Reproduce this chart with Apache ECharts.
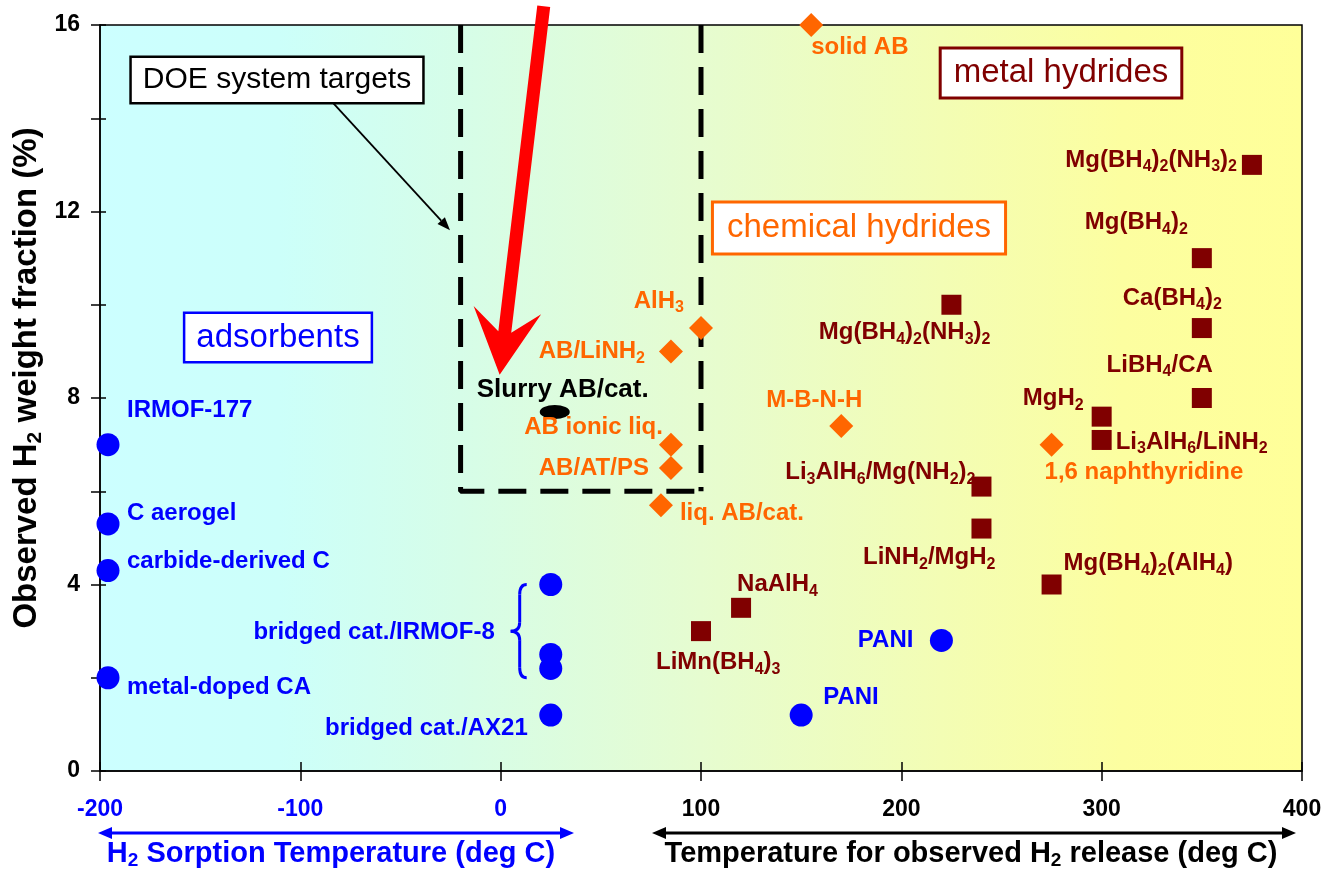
<!DOCTYPE html>
<html><head><meta charset="utf-8">
<script src="https://cdn.jsdelivr.net/npm/echarts@6/dist/echarts.min.js"></script>
<style>html,body{margin:0;padding:0;background:#fff}#c{width:1325px;height:869px}</style>
</head><body><div id="c"></div>
<script>
// ---------------- data ----------------
const xTicks = [-200, -100, 0, 100, 200, 300, 400];
const yTicks = [0, 4, 8, 12, 16];

const adsorbentLabels = ['IRMOF-177', 'C aerogel', 'carbide-derived C', 'metal-doped CA', '', 'bridged cat./IRMOF-8', '', 'bridged cat./AX21', 'PANI', 'PANI'];
const adsorbentTemp   = [-196, -196, -196, -196, 25, 25, 25, 25, 150, 220];
const adsorbentWt     = [7.0, 5.3, 4.3, 2.0, 4.0, 2.5, 2.2, 1.2, 1.2, 2.8];

const chemLabels = ['solid AB', 'AlH{s|3}', 'AB/LiNH{s|2}', 'AB ionic liq.', 'AB/AT/PS', 'liq. AB/cat.', 'M-B-N-H', '1,6 naphthyridine'];
const chemTemp   = [155, 100, 85, 85, 85, 80, 170, 275];
const chemWt     = [16.0, 9.5, 9.0, 7.0, 6.5, 5.7, 7.4, 7.0];

const metalLabels = ['Mg(BH{s|4}){s|2}(NH{s|3}){s|2}', 'Mg(BH{s|4}){s|2}', 'Ca(BH{s|4}){s|2}', 'LiBH{s|4}/CA', 'MgH{s|2}',
  'Li{s|3}AlH{s|6}/LiNH{s|2}', 'Mg(BH{s|4}){s|2}(NH{s|3}){s|2}', 'Li{s|3}AlH{s|6}/Mg(NH{s|2}){s|2}', 'LiNH{s|2}/MgH{s|2}',
  'Mg(BH{s|4}){s|2}(AlH{s|4})', 'NaAlH{s|4}', 'LiMn(BH{s|4}){s|3}'];
const metalTemp = [375, 350, 350, 350, 300, 300, 225, 240, 240, 275, 120, 100];
const metalWt   = [13.0, 11.0, 9.5, 8.0, 7.6, 7.1, 10.0, 6.1, 5.2, 4.0, 3.5, 3.0];

const slurryLabels = ['Slurry AB/cat.'];
const slurryTemp = [27];
const slurryWt = [7.7];

// DOE system target region (dashed outline)
const doeTemp = [-20, -20, 100, 100];
const doeWt   = [16, 6, 6, 16];

// annotation anchors (data coordinates)
const redArrowFrom = [21.5, 16.4];
const redArrowTo = [-0.5, 8.5];
const doeArrowFrom = [-83.7, 14.33];
const doeArrowTo = [-25.3, 11.6];
const braceWt = [4.0, 3.0, 2.0];

// ---------------- layout / style ----------------
const FONT = '"Liberation Sans", Arial, Helvetica, sans-serif';
const BLUE = '#0000ff', ORANGE = '#ff6600', DARKRED = '#800000';

// label offsets: [dx, dy, align]
const adsorbentLayout = [[19,-34,'left'],[19,-11,'left'],[19,-9,'left'],[19,10,'left'],null,[-56,-22,'right'],null,[-23,13,'right'],[22,-18,'left'],[-28,0,'right']];
const chemLayout = [[0,22,'left'],[-17,-27,'right'],[-26,0,'right'],[-8,-17,'right'],[-22,0,'right'],[19,8,'left'],[-27,-26,'center'],[-7,28,'left']];
const metalLayout = [[-15,-5,'right'],[-14,-36,'right'],[20,-30,'right'],[11,-33,'right'],[-18,-18,'right'],[14,2,'left'],[39,28,'right'],[-6,-14,'right'],[14,29,'right'],[12,-21,'left'],[-4,-23,'left'],[-45,31,'left']];
const slurryLayout = [[-78,-22,'left']];

function buildItems(xs, ys, labels, layout) {
  return xs.map((x, i) => {
    const lay = layout[i];
    const it = { value: [x, ys[i]], name: labels[i] };
    if (lay && labels[i]) {
      it.label = { show: true, position: ['50%', '50%'], offset: [lay[0], lay[1]], align: lay[2], verticalAlign: 'middle' };
    } else {
      it.label = { show: false };
    }
    return it;
  });
}
function labelStyle(color, size) {
  return {
    show: true, color: color, fontSize: size || 24, fontWeight: 'bold', fontFamily: FONT, lineHeight: 30,
    formatter: p => p.name,
    rich: { s: { fontSize: 16, fontWeight: 'bold', fontFamily: FONT, color: color, verticalAlign: 'bottom', lineHeight: 16 } }
  };
}

const option = {
  animation: false,
  grid: {
    left: 100, right: 23, top: 25, bottom: 98, show: true,
    backgroundColor: { type: 'linear', x: 0, y: 0, x2: 1, y2: 0, colorStops: [
      { offset: 0, color: '#ccffff' }, { offset: 0.15, color: '#ccfffa' }, { offset: 0.3, color: '#d6fde8' },
      { offset: 0.5, color: '#e6fcd0' }, { offset: 0.7, color: '#f3fdb4' }, { offset: 0.85, color: '#fcfea0' },
      { offset: 1, color: '#ffff99' } ] },
    borderColor: '#000', borderWidth: 1.5
  },
  xAxis: [{
    type: 'value', min: xTicks[0], max: xTicks[xTicks.length - 1], interval: 100, position: 'bottom',
    axisLine: { show: true, onZero: false, lineStyle: { color: '#000', width: 1.5 } },
    axisTick: { show: true, length: 10, lineStyle: { color: '#000', width: 1.5 } },
    axisLabel: { margin: 27, fontSize: 23, fontWeight: 'bold', fontFamily: FONT, color: v => (Number(v) <= 0 ? BLUE : '#000') },
    splitLine: { show: false }
  }, {
    type: 'value', min: xTicks[0], max: xTicks[xTicks.length - 1], interval: 100, position: 'bottom',
    axisLine: { show: false, onZero: false }, axisTick: { show: true, inside: true, length: 9, lineStyle: { color: '#000', width: 1.5 } },
    axisLabel: { show: false }, splitLine: { show: false }
  }],
  yAxis: [{
    type: 'value', min: yTicks[0], max: yTicks[yTicks.length - 1], interval: 2, position: 'left',
    axisLine: { show: true, onZero: false, lineStyle: { color: '#000', width: 1.5 } },
    axisTick: { show: true, length: 9, lineStyle: { color: '#000', width: 1.5 } },
    axisLabel: { margin: 20, fontSize: 23, fontWeight: 'bold', fontFamily: FONT, color: '#000',
      formatter: v => (yTicks.indexOf(v) >= 0 ? String(v) : '') },
    splitLine: { show: false }
  }, {
    type: 'value', min: yTicks[0], max: yTicks[yTicks.length - 1], interval: 2, position: 'left', offset: 0,
    axisLine: { show: false, onZero: false }, axisTick: { show: true, inside: true, length: 6, lineStyle: { color: '#000', width: 1.5 } },
    axisLabel: { show: false }, splitLine: { show: false }
  }],
  series: [
    { type: 'line', name: 'DOE', data: [0, 1, 2].map(i => [doeTemp[i], doeWt[i]]), symbol: 'none', z: 1,
      lineStyle: { color: '#000', width: 5, type: [28, 14] }, emphasis: { disabled: true } },
    { type: 'line', name: 'DOE right', data: [3, 2].map(i => [doeTemp[i], doeWt[i]]), symbol: 'none', z: 1,
      lineStyle: { color: '#000', width: 5, type: [28, 14] }, emphasis: { disabled: true } },
    { type: 'scatter', name: 'adsorbents', symbol: 'circle', symbolSize: 23, itemStyle: { color: BLUE, opacity: 1 }, z: 3,
      data: buildItems(adsorbentTemp, adsorbentWt, adsorbentLabels, adsorbentLayout), label: labelStyle(BLUE), emphasis: { disabled: true } },
    { type: 'scatter', name: 'chemical', symbol: 'diamond', symbolSize: 24, itemStyle: { color: ORANGE, opacity: 1 }, z: 3,
      data: buildItems(chemTemp, chemWt, chemLabels, chemLayout), label: labelStyle(ORANGE), emphasis: { disabled: true } },
    { type: 'scatter', name: 'metal', symbol: 'rect', symbolSize: 20, itemStyle: { color: DARKRED, opacity: 1 }, z: 3,
      data: buildItems(metalTemp, metalWt, metalLabels, metalLayout), label: labelStyle(DARKRED), emphasis: { disabled: true } },
    { type: 'scatter', name: 'slurry', symbol: 'circle', symbolSize: [30, 14], itemStyle: { color: '#000', opacity: 1 }, z: 3,
      data: buildItems(slurryTemp, slurryWt, slurryLabels, slurryLayout), label: labelStyle('#000', 26), emphasis: { disabled: true } }
  ]
};

const chart = echarts.init(document.getElementById('c'), null, { renderer: 'canvas' });
chart.setOption(option);

const P = d => chart.convertToPixel({ gridIndex: 0 }, d);

function arrowPolygon(from, to, halfShaft, headLen, headHalf, notch) {
  const a = P(from), b = P(to);
  const dx = b[0] - a[0], dy = b[1] - a[1];
  const L = Math.sqrt(dx * dx + dy * dy);
  const ux = dx / L, uy = dy / L, nx = -uy, ny = ux;
  const pt = (back, perp) => [b[0] - ux * back + nx * perp, b[1] - uy * back + ny * perp];
  return [pt(L, -halfShaft), pt(L, halfShaft), pt(notch, halfShaft), pt(headLen, headHalf), pt(0, 0), pt(headLen, -headHalf), pt(notch, -halfShaft)];
}
function thinArrow(a, to, color, width, headLen, headHalf) {
  const dx = to[0] - a[0], dy = to[1] - a[1];
  const L = Math.sqrt(dx * dx + dy * dy);
  const ux = dx / L, uy = dy / L, nx = -uy, ny = ux;
  const base = [to[0] - ux * headLen, to[1] - uy * headLen];
  return [
    { type: 'line', z: 60, shape: { x1: a[0], y1: a[1], x2: base[0], y2: base[1] }, style: { stroke: color, lineWidth: width } },
    { type: 'polygon', z: 60, shape: { points: [to, [base[0] + nx * headHalf, base[1] + ny * headHalf], [base[0] - nx * headHalf, base[1] - ny * headHalf]] }, style: { fill: color } }
  ];
}
function boxText(text, x, y, color, size, pad, bw) {
  return { type: 'text', x: x, y: y, z: 55, style: { text: text, fill: color, fontSize: size, fontFamily: FONT,
    align: 'center', verticalAlign: 'middle', backgroundColor: '#fff', borderColor: color, borderWidth: bw, padding: pad } };
}
function curve(x1, y1, cx, cy, x2, y2) {
  return { type: 'bezierCurve', z: 50, shape: { x1: x1, y1: y1, cpx1: cx, cpy1: cy, x2: x2, y2: y2 }, style: { stroke: BLUE, lineWidth: 3, fill: null } };
}
function seg(x1, y1, x2, y2) {
  return { type: 'line', z: 50, shape: { x1: x1, y1: y1, x2: x2, y2: y2 }, style: { stroke: BLUE, lineWidth: 3 } };
}

const graphics = [];
// brace
const bt = P([13, braceWt[0]]), bm = P([5, braceWt[1]]), bb = P([13, braceWt[2]]), bx = P([9.5, braceWt[1]])[0];
graphics.push(curve(bt[0], bt[1], bx, bt[1], bx, bt[1] + 10));
graphics.push(seg(bx, bt[1] + 10, bx, bm[1] - 9));
graphics.push(curve(bx, bm[1] - 9, bx, bm[1], bm[0], bm[1]));
graphics.push(curve(bm[0], bm[1], bx, bm[1], bx, bm[1] + 9));
graphics.push(seg(bx, bm[1] + 9, bx, bb[1] - 10));
graphics.push(curve(bx, bb[1] - 10, bx, bb[1], bb[0], bb[1]));

graphics.push(boxText('DOE system targets', 277, 80, '#000', 30, [7, 11], 2.5));
graphics.push(boxText('adsorbents', 278, 337.5, BLUE, 33, [7, 11], 2.5));
graphics.push(boxText('chemical hydrides', 859, 228, ORANGE, 33, [8, 13], 3));
graphics.push(boxText('metal hydrides', 1061, 73, DARKRED, 33, [7, 12], 3));
thinArrow(P(doeArrowFrom), P(doeArrowTo), '#000', 1.8, 13, 5).forEach(g => graphics.push(g));
graphics.push({ type: 'polygon', z: 100, shape: { points: arrowPolygon(redArrowFrom, redArrowTo, 6.5, 65, 34, 43) }, style: { fill: '#ff0000' } });

// bottom double arrows
function hDoubleArrow(x1, x2, y, color) {
  return [
    { type: 'line', z: 60, shape: { x1: x1 + 12, y1: y, x2: x2 - 12, y2: y }, style: { stroke: color, lineWidth: 3 } },
    { type: 'polygon', z: 60, shape: { points: [[x1, y], [x1 + 14, y - 6], [x1 + 14, y + 6]] }, style: { fill: color } },
    { type: 'polygon', z: 60, shape: { points: [[x2, y], [x2 - 14, y - 6], [x2 - 14, y + 6]] }, style: { fill: color } }
  ];
}
hDoubleArrow(98, 574, 833, BLUE).forEach(g => graphics.push(g));
hDoubleArrow(652, 1296, 833, '#000').forEach(g => graphics.push(g));
graphics.push({ type: 'text', x: 331, y: 854, z: 60, style: { text: 'H{s|2} Sorption Temperature (deg C)', fill: BLUE, fontSize: 29, fontWeight: 'bold', fontFamily: FONT,
  align: 'center', verticalAlign: 'middle', lineHeight: 32, rich: { s: { fontSize: 19, fontWeight: 'bold', fontFamily: FONT, fill: BLUE, verticalAlign: 'bottom', lineHeight: 18 } } } });
graphics.push({ type: 'text', x: 971, y: 854, z: 60, style: { text: 'Temperature for observed H{s|2} release (deg C)', fill: '#000', fontSize: 29, fontWeight: 'bold', fontFamily: FONT,
  align: 'center', verticalAlign: 'middle', lineHeight: 32, rich: { s: { fontSize: 19, fontWeight: 'bold', fontFamily: FONT, fill: '#000', verticalAlign: 'bottom', lineHeight: 18 } } } });
graphics.push({ type: 'text', x: 27, y: 378, rotation: Math.PI / 2, z: 60, style: { text: 'Observed H{s|2} weight fraction (%)', fill: '#000', fontSize: 33, fontWeight: 'bold', fontFamily: FONT,
  align: 'center', verticalAlign: 'middle', lineHeight: 38, rich: { s: { fontSize: 21, fontWeight: 'bold', fontFamily: FONT, fill: '#000', verticalAlign: 'bottom', lineHeight: 21 } } } });

chart.setOption({ graphic: graphics });
</script>
</body></html>
